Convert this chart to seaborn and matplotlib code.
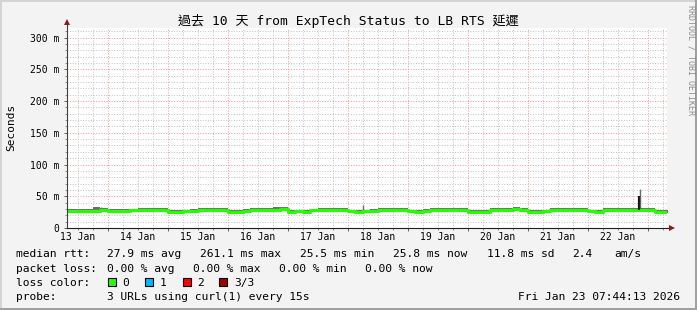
import matplotlib
matplotlib.use("Agg")
import matplotlib.pyplot as plt
import matplotlib.dates as mdates
from matplotlib.patches import Rectangle
from matplotlib.ticker import MultipleLocator, NullFormatter
import seaborn as sns
import pandas as pd

# ---------------- data ----------------
title = "過去 10 天 from ExpTech Status to LB RTS 延遲"
t_start = "2026-01-13 07:44:13"
t_end = "2026-01-23 07:44:13"
step_start = "2026-01-13 06:00"
step_hours = 3

median_ms = [
    26.6, 26.4, 26.8, 26.5, 27.0, 28.6,                     # 13 Jan (from 06:00)
    26.8, 26.2, 26.5, 27.6, 28.7, 28.4, 28.8, 28.3,         # 14 Jan
    25.9, 25.7, 26.0, 26.8, 28.5, 28.6, 28.3, 28.7,         # 15 Jan
    25.8, 25.9, 26.1, 28.0, 28.5, 28.4, 29.0, 29.2,         # 16 Jan
    25.7, 26.0, 25.8, 27.8, 28.6, 28.3, 28.5, 28.9,         # 17 Jan
    26.0, 25.8, 26.1, 26.5, 28.4, 28.7, 28.4, 28.8,         # 18 Jan
    26.0, 25.7, 26.2, 28.3, 28.5, 28.3, 28.6, 28.4,         # 19 Jan
    25.8, 25.6, 25.9, 28.2, 28.4, 28.6, 29.2, 28.5,         # 20 Jan
    25.7, 25.9, 26.0, 28.1, 28.4, 28.5, 28.3, 28.6,         # 21 Jan
    26.0, 25.9, 28.2, 28.5, 28.4, 28.6, 28.6, 29.0,         # 22 Jan
    28.4, 25.8, 25.8, 25.8,                                 # 23 Jan
]
smoke_hi_ms = [
    29.6, 29.3, 29.8, 29.5, 32.6, 31.4,
    29.7, 29.2, 29.6, 30.4, 31.8, 31.2, 32.0, 31.3,
    29.0, 28.7, 29.1, 29.8, 31.4, 31.7, 31.2, 31.8,
    28.9, 28.8, 29.2, 30.9, 31.5, 31.3, 32.4, 32.7,
    28.7, 29.0, 28.8, 30.7, 31.7, 31.2, 31.4, 32.0,
    29.0, 28.8, 29.1, 29.6, 31.3, 31.7, 31.4, 31.8,
    29.0, 28.7, 29.3, 31.4, 31.5, 31.2, 31.7, 31.4,
    28.8, 28.6, 28.9, 31.2, 31.4, 31.6, 32.6, 31.5,
    28.7, 28.9, 29.1, 31.1, 31.4, 31.5, 31.2, 31.6,
    29.0, 28.9, 31.2, 31.5, 31.4, 31.6, 31.7, 32.1,
    31.3, 28.8, 28.8, 28.8,
]
smoke_lo_ms = [
    23.8, 23.7, 24.1, 23.8, 24.5, 25.9,
    24.0, 23.4, 23.7, 24.9, 26.0, 25.7, 26.1, 25.6,
    23.1, 23.0, 23.3, 24.1, 25.8, 25.9, 25.6, 26.0,
    23.0, 23.2, 23.4, 25.3, 25.8, 25.7, 26.3, 26.5,
    22.9, 23.3, 23.0, 25.1, 25.9, 25.6, 25.8, 26.2,
    23.3, 23.0, 23.4, 23.8, 25.7, 26.0, 25.7, 26.1,
    23.3, 22.9, 23.5, 25.6, 25.8, 25.6, 25.9, 25.7,
    23.0, 22.8, 23.2, 25.5, 25.7, 25.9, 26.5, 25.8,
    22.9, 23.2, 23.3, 25.4, 25.7, 25.8, 25.6, 25.9,
    23.3, 23.2, 25.5, 25.8, 25.7, 25.9, 25.9, 26.3,
    25.7, 23.0, 23.0, 23.0,
]
spike_times = ["2026-01-13 21:10", "2026-01-18 06:20", "2026-01-22 20:50"]
spike_lo_ms = [29.0, 29.0, 29.5]
spike_hi_ms = [32.6, 36.0, 61.0]
dark_spike_times = ["2026-01-22 20:40"]
dark_spike_lo_ms = [28.0]
dark_spike_hi_ms = [50.0]

y_ticks = [0, 50, 100, 150, 200, 250, 300]
y_tick_labels = ["0", "50 m", "100 m", "150 m", "200 m", "250 m", "300 m"]
day_label_times = ["2026-01-%02d 12:00" % d for d in range(13, 23)]
day_labels = ["%d Jan" % d for d in range(13, 23)]

legend_rows = [
    [("median rtt:", 16), ("27.9 ms avg", 107.3), ("261.1 ms max", 200),
     ("25.5 ms min", 300.5), ("25.8 ms now", 393.3), ("11.8 ms sd", 486.7),
     ("2.4", 572), ("am/s", 614)],
    [("packet loss:", 16), ("0.00 % avg", 107.3), ("0.00 % max", 193.3),
     ("0.00 % min", 279.3), ("0.00 % now", 365)],
    [("loss color:", 16)],
    [("probe:", 16), ("3 URLs using curl(1) every 15s", 107.3)],
]
loss_labels = ["0", "1", "2", "3/3"]
loss_colors = ["#26ff00", "#00b8ff", "#ff0000", "#a10000"]
timestamp_text = "Fri Jan 23 07:44:13 2026"

# ---------------- figure ----------------
W, H = 697, 310
plt.rcParams["font.family"] = ["DejaVu Sans Mono", "Noto Sans CJK TC"]
fig = plt.figure(figsize=(W / 100, H / 100), dpi=100, facecolor="#f3f3f3")

def fx(px):
    return px / W

def fy(py):
    return 1 - py / H

# 3D-like frame
fig.add_artist(Rectangle((0, fy(2)), 1, 2 / H, transform=fig.transFigure, color="#d4d4d4", lw=0))
fig.add_artist(Rectangle((0, 0), 2 / W, 1, transform=fig.transFigure, color="#d4d4d4", lw=0))
fig.add_artist(Rectangle((0, 0), 1, 2 / H, transform=fig.transFigure, color="#a0a0a0", lw=0))
fig.add_artist(Rectangle((fx(W - 2), 0), 2 / W, 1, transform=fig.transFigure, color="#a0a0a0", lw=0))

ax = fig.add_axes([fx(67), fy(228), 600 / W, 200 / H])
ax.set_facecolor("white")

times = pd.date_range(step_start, periods=len(median_ms), freq="%dh" % step_hours)
df = pd.DataFrame({"time": times, "median": median_ms, "hi": smoke_hi_ms, "lo": smoke_lo_ms})

ax.fill_between(df["time"], df["lo"], df["hi"], step="post", color="#6e6e6e", lw=0, zorder=2)
ax.vlines(pd.to_datetime(spike_times), spike_lo_ms, spike_hi_ms, colors="#6a6a6a", lw=1.0, zorder=3)
sns.lineplot(data=df, x="time", y="median", drawstyle="steps-post", color="#26ff00",
             linewidth=2.3, ax=ax, zorder=4)
ax.vlines(pd.to_datetime(dark_spike_times), dark_spike_lo_ms, dark_spike_hi_ms,
          colors="#1a1a1a", lw=1.6, zorder=5)

ax.set_xlim(pd.Timestamp(t_start), pd.Timestamp(t_end))
ax.set_ylim(0, 315)
ax.set_xlabel("")
ax.set_ylabel("")

for s in ax.spines.values():
    s.set_visible(False)

ax.xaxis.set_major_locator(mdates.DayLocator())
ax.xaxis.set_minor_locator(mdates.HourLocator(byhour=[6, 12, 18]))
ax.xaxis.set_major_formatter(NullFormatter())
ax.set_yticks(y_ticks, labels=y_tick_labels)
ax.yaxis.set_minor_locator(MultipleLocator(10))

ax.tick_params(axis="both", which="major", length=2.2, width=0.7, color="#606060", direction="out")
ax.tick_params(axis="both", which="minor", length=1.5, width=0.7, color="#909090", direction="out")
ax.tick_params(axis="y", labelsize=7, pad=3.4, labelcolor="#000000")

dots = (0, (1, 1.6))
ax.grid(which="minor", color="#c4c4c4", lw=0.72, linestyle=dots)
ax.grid(which="major", color="#f29a9a", lw=0.72, linestyle=dots)
ax.set_axisbelow(True)

for tlab, lab in zip(day_label_times, day_labels):
    ax.text(mdates.date2num(pd.Timestamp(tlab)), -9.5 / 200, lab, transform=ax.get_xaxis_transform(),
            ha="center", va="center", fontsize=7, color="#000000")

# axes lines and arrows
ax.plot([0, 0], [0, 1.028], transform=ax.transAxes, color="#404040", lw=0.8, clip_on=False, zorder=6)
ax.plot([0, 1.006], [0, 0], transform=ax.transAxes, color="#202020", lw=0.8, clip_on=False, zorder=6)
ax.plot([0], [1.032], marker="^", ms=4.2, color="#8b1a1a", transform=ax.transAxes,
        clip_on=False, zorder=7, markeredgewidth=0)
ax.plot([1.009], [0], marker=">", ms=4.2, color="#8b1a1a", transform=ax.transAxes,
        clip_on=False, zorder=7, markeredgewidth=0)

# texts
fig.text(fx(348.5), fy(21.3), title, ha="center", va="center", fontsize=9.4, color="#000000")
fig.text(fx(11), fy(127), "Seconds", rotation=90, ha="center", va="center", fontsize=8, color="#000000")
fig.text(fx(691.5), fy(5), "RRDTOOL / TOBI OETIKER", rotation=270, ha="center", va="top",
         fontsize=6, color="#8c8c8c")

row_y = [254.3, 268.6, 282.6, 296.8]
for row, yy in zip(legend_rows, row_y):
    for txt, xx in row:
        fig.text(fx(xx), fy(yy), txt, ha="left", va="center", fontsize=8.1, color="#000000")

box_x = [108.3, 145.0, 182.7, 219.3]
lab_x = [122.7, 160.0, 197.3, 234.3]
for bx, lx, lab, col in zip(box_x, lab_x, loss_labels, loss_colors):
    fig.add_artist(Rectangle((fx(bx), fy(286.3)), 8 / W, 8 / H, transform=fig.transFigure,
                             facecolor=col, edgecolor="#000000", lw=0.8))
    fig.text(fx(lx), fy(row_y[2]), lab, ha="left", va="center", fontsize=8.1, color="#000000")

fig.text(fx(680), fy(row_y[3]), timestamp_text, ha="right", va="center", fontsize=8.1, color="#000000")

fig.savefig("out.png", dpi=100, facecolor=fig.get_facecolor())
